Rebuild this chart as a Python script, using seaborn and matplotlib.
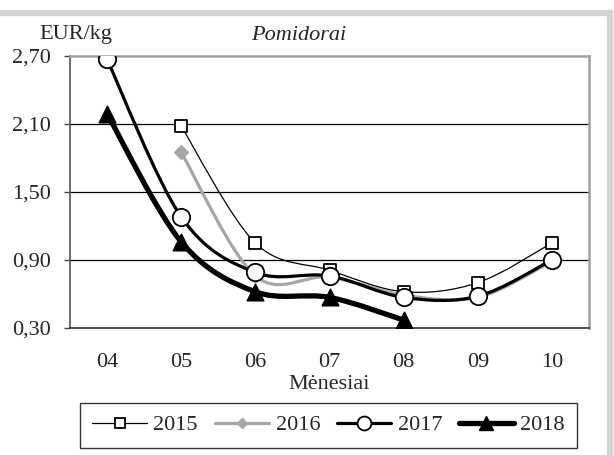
import numpy as np
import pandas as pd
import matplotlib
matplotlib.use("Agg")
import matplotlib.pyplot as plt
import seaborn as sns
from matplotlib.path import Path
from matplotlib.patches import PathPatch, Rectangle
from matplotlib.lines import Line2D

months = ["04", "05", "06", "07", "08", "09", "10"]
years = ["2015", "2016", "2017", "2018"]
v2015 = [np.nan, 2.08, 1.05, 0.81, 0.62, 0.70, 1.05]
v2016 = [np.nan, 1.85, 0.76, 0.75, 0.59, 0.57, 0.89]
v2017 = [2.67, 1.28, 0.79, 0.76, 0.57, 0.58, 0.90]
v2018 = [2.19, 1.06, 0.62, 0.57, 0.37, np.nan, np.nan]
yticks = [0.30, 0.90, 1.50, 2.10, 2.70]

series = {"2015": v2015, "2016": v2016, "2017": v2017, "2018": v2018}

styles = {
    "2015": dict(color="black", lw=0.9, marker="s", ms=9, mfc="white", mec="black", mew=1.3),
    "2016": dict(color="#a6a6a6", lw=2.3, marker="D", ms=7, mfc="#a6a6a6", mec="#a6a6a6", mew=1.0),
    "2017": dict(color="black", lw=2.3, marker="o", ms=12.5, mfc="white", mec="black", mew=1.3),
    "2018": dict(color="black", lw=3.8, marker="^", ms=12, mfc="black", mec="black", mew=1.0),
}

rows = []
for y in years:
    for i, m in enumerate(months):
        v = series[y][i]
        if not np.isnan(v):
            rows.append(dict(year=y, pos=i, month=m, value=v))
df = pd.DataFrame(rows)

sns.set_style("white")
plt.rcParams["font.family"] = ["Liberation Serif", "DejaVu Serif"]
FS = 16

fig = plt.figure(figsize=(6.14, 4.55), dpi=100)
ax = fig.add_axes([70 / 614, 1 - 328 / 455, (589 - 70) / 614, (328 - 56) / 455])


def smooth_path(xs, ys):
    pts = np.column_stack([xs, ys])
    verts = [pts[0]]
    codes = [Path.MOVETO]
    n = len(pts)
    for i in range(n - 1):
        p0 = pts[i - 1] if i > 0 else pts[i]
        p1 = pts[i]
        p2 = pts[i + 1]
        p3 = pts[i + 2] if i + 2 < n else pts[i + 1]
        c1 = p1 + (p2 - p0) / 6.0
        c2 = p2 - (p3 - p1) / 6.0
        verts += [c1, c2, p2]
        codes += [Path.CURVE4] * 3
    return Path(verts, codes)


for z, y in enumerate(years):
    st = styles[y]
    d = df[df.year == y]
    path = smooth_path(d.pos.values, d.value.values)
    ax.add_patch(PathPatch(path, facecolor="none", edgecolor=st["color"], lw=st["lw"],
                           transform=ax.transData, zorder=3 + 2 * z, capstyle="round",
                           joinstyle="round"))
    sns.scatterplot(data=d, x="pos", y="value", ax=ax, marker=st["marker"],
                    s=st["ms"] ** 2, color=st["mfc"], edgecolor=st["mec"],
                    linewidth=st["mew"], zorder=4 + 2 * z, legend=False)

ax.set_xlim(-0.5, len(months) - 0.5)
ax.set_ylim(yticks[0], yticks[-1])
ax.set_xticks(range(len(months)))
ax.set_xticklabels(months)
ax.set_xticks(np.arange(-0.5, len(months), 1.0), minor=True)
ax.tick_params(axis="x", which="major", length=0, pad=18, labelsize=FS)
ax.tick_params(axis="x", which="minor", length=5, width=1.0, color="#222222", direction="out")
ax.set_yticks(yticks)
ax.set_yticklabels([f"{t:.2f}".replace(".", ",") for t in yticks])
ax.tick_params(axis="y", length=4, width=1.0, color="#444444", pad=10, labelsize=FS,
               direction="out", left=True)
for t in yticks[1:-1]:
    ax.axhline(t, color="black", lw=0.9, zorder=1)

ax.set_xlabel("Mėnesiai", fontsize=FS, labelpad=2)
ax.set_ylabel("")
ax.spines["left"].set_color("#555555")
ax.spines["left"].set_linewidth(1.2)
ax.spines["bottom"].set_color("#333333")
ax.spines["bottom"].set_linewidth(1.2)
ax.spines["top"].set_color("#a0a0a0")
ax.spines["top"].set_linewidth(1.8)
ax.spines["right"].set_color("#a0a0a0")
ax.spines["right"].set_linewidth(1.8)

fig.text(76 / 614, 1 - 35 / 455, "EUR/kg", ha="center", va="center", fontsize=FS)
fig.text(299 / 614, 1 - 35 / 455, "Pomidorai", ha="center", va="center", fontsize=FS,
         style="italic")

handles = []
for y in years:
    st = styles[y]
    handles.append(Line2D([], [], color=st["color"], lw=st["lw"], marker=st["marker"],
                          markersize=st["ms"] * 0.8, markerfacecolor=st["mfc"],
                          markeredgecolor=st["mec"], markeredgewidth=st["mew"]))
leg = fig.legend(handles, years, loc="center", bbox_to_anchor=(328.5 / 614, 1 - 425 / 455),
                 ncol=4, fontsize=FS, frameon=True, fancybox=False, handlelength=2.45,
                 handletextpad=0.3, columnspacing=0.75, borderpad=0.55)
leg.get_frame().set_edgecolor("black")
leg.get_frame().set_linewidth(1.0)

fig.patches.append(Rectangle((-0.05, -0.05), 610 / 614 + 0.05, 1 - 13 / 455 + 0.05,
                             transform=fig.transFigure, fill=False, edgecolor="#d4d4d4",
                             lw=4.5, zorder=0))

fig.savefig("out.png", dpi=100)
